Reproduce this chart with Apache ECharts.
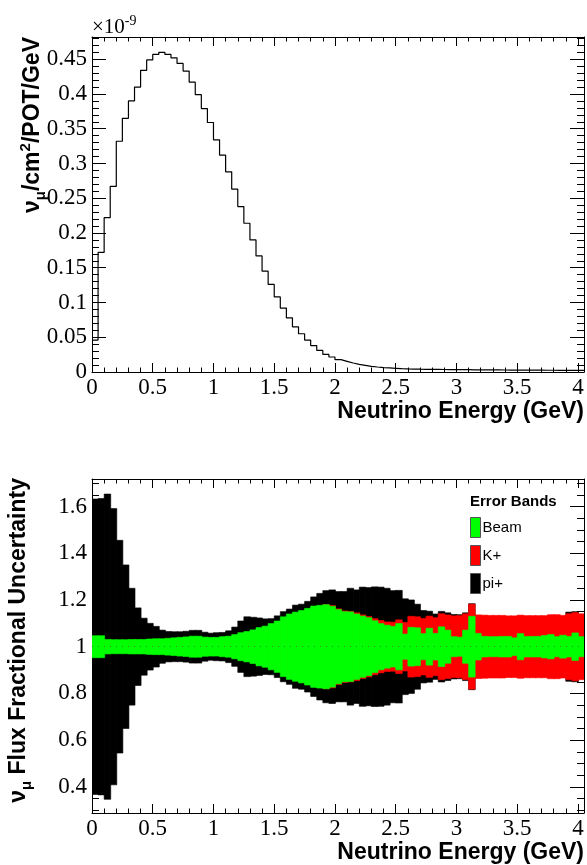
<!DOCTYPE html>
<html>
<head>
<meta charset="utf-8">
<script src="https://cdn.jsdelivr.net/npm/echarts@6/dist/echarts.min.js"></script>
<style>
html, body { margin: 0; padding: 0; background: #fff; }
#chart { width: 587px; height: 865px; }
</style>
</head>
<body>
<div id="chart"></div>
<script>
// bins of 0.05 GeV from 0 to 4.05
var binEdges = [];
for (var i = 0; i <= 81; i++) binEdges.push(+(i * 0.05).toFixed(2))

// nu_mu flux per bin (x 1e-9 /cm2/POT/GeV)
var fluxValues = [
  0.046, 0.172, 0.222, 0.267, 0.332, 0.365, 0.390, 0.410, 0.434, 0.449,
  0.457, 0.460, 0.457, 0.452, 0.444, 0.433, 0.417, 0.399, 0.379, 0.359,
  0.334, 0.312, 0.288, 0.263, 0.238, 0.214, 0.190, 0.167, 0.145, 0.126,
  0.108, 0.092, 0.078, 0.065, 0.055, 0.046, 0.038, 0.031, 0.0255, 0.0216,
  0.0178, 0.0154, 0.0130, 0.0110, 0.0096, 0.0082, 0.0072, 0.0063, 0.0058, 0.0053,
  0.0048, 0.0044, 0.0042, 0.0040, 0.0039, 0.0038, 0.0037, 0.0036, 0.0035, 0.0034,
  0.0034, 0.0033, 0.0032, 0.0031, 0.0031, 0.0030, 0.0030, 0.0029, 0.0028, 0.0028,
  0.0027, 0.0027, 0.0026, 0.0026, 0.0025, 0.0025, 0.0024, 0.0024, 0.0023, 0.0023,
  0.0022
]

// fractional half-widths of the error bands, per bin
var beamErr = [
  0.047, 0.047, 0.031, 0.030, 0.030, 0.030, 0.031, 0.031, 0.031, 0.033,
  0.034, 0.034, 0.036, 0.038, 0.040, 0.042, 0.045, 0.045, 0.041, 0.040,
  0.040, 0.043, 0.045, 0.052, 0.060, 0.065, 0.072, 0.082, 0.088, 0.099,
  0.110, 0.128, 0.140, 0.148, 0.155, 0.164, 0.174, 0.177, 0.180, 0.173,
  0.159, 0.150, 0.149, 0.140, 0.131, 0.124, 0.111, 0.099, 0.092, 0.087,
  0.099, 0.054, 0.083, 0.081, 0.056, 0.079, 0.057, 0.085, 0.071, 0.043,
  0.041, 0.071, 0.130, 0.057, 0.044, 0.043, 0.043, 0.044, 0.044, 0.038,
  0.056, 0.044, 0.044, 0.044, 0.048, 0.052, 0.043, 0.049, 0.044, 0.059,
  0.043
]
var kaonErr = [
  0.020, 0.020, 0.018, 0.017, 0.016, 0.016, 0.016, 0.017, 0.018, 0.019,
  0.020, 0.021, 0.022, 0.024, 0.026, 0.028, 0.030, 0.032, 0.033, 0.034,
  0.035, 0.037, 0.040, 0.045, 0.050, 0.055, 0.062, 0.070, 0.077, 0.086,
  0.096, 0.110, 0.122, 0.132, 0.142, 0.152, 0.162, 0.170, 0.180, 0.176,
  0.162, 0.153, 0.151, 0.145, 0.136, 0.129, 0.120, 0.112, 0.106, 0.105,
  0.115, 0.104, 0.130, 0.128, 0.121, 0.131, 0.124, 0.141, 0.136, 0.132,
  0.133, 0.141, 0.182, 0.136, 0.135, 0.134, 0.134, 0.134, 0.132, 0.132,
  0.135, 0.133, 0.133, 0.133, 0.133, 0.137, 0.137, 0.134, 0.141, 0.146,
  0.141
]
var pionErr = [
  0.632, 0.634, 0.653, 0.591, 0.455, 0.350, 0.250, 0.166, 0.122, 0.100,
  0.087, 0.071, 0.065, 0.064, 0.064, 0.066, 0.070, 0.070, 0.062, 0.058,
  0.060, 0.061, 0.068, 0.084, 0.110, 0.128, 0.126, 0.123, 0.119, 0.120,
  0.132, 0.150, 0.161, 0.178, 0.182, 0.194, 0.213, 0.228, 0.240, 0.243,
  0.236, 0.236, 0.250, 0.243, 0.255, 0.253, 0.256, 0.255, 0.250, 0.240,
  0.241, 0.205, 0.200, 0.182, 0.155, 0.152, 0.140, 0.151, 0.145, 0.138,
  0.137, 0.145, 0.184, 0.128, 0.127, 0.126, 0.126, 0.126, 0.125, 0.125,
  0.127, 0.126, 0.126, 0.126, 0.126, 0.130, 0.130, 0.128, 0.148, 0.150,
  0.135
]
var centralValue = 1

var serif = 'Liberation Serif'
var sans = 'Liberation Sans'

// histogram outline as step points
var fluxLine = fluxValues.map(function (v, i) { return [binEdges[i], v] })
fluxLine.push([binEdges[fluxValues.length], fluxValues[fluxValues.length - 1]])

function band(err) {
  return err.map(function (e, i) {
    return [binEdges[i], binEdges[i + 1], centralValue - e, centralValue + e]
  })
}

function renderBand(params, api) {
  var a = api.coord([api.value(0), api.value(3)])
  var b = api.coord([api.value(1), api.value(2)])
  var c = api.visual('color')
  return {
    type: 'rect',
    shape: { x: a[0], y: a[1], width: b[0] - a[0] + 0.5, height: b[1] - a[1] },
    style: { fill: c, stroke: c, lineWidth: 0.6 }
  }
}

function xAxis(grid, pos) {
  return {
    type: 'value', gridIndex: grid, position: pos,
    min: 0, max: 4.05, interval: 0.5,
    axisLine: { show: true, onZero: false, lineStyle: { color: '#000', width: 1 } },
    axisTick: { show: true, inside: true, length: 9, lineStyle: { color: '#000' } },
    minorTick: { show: true, splitNumber: 5, length: 4.5, lineStyle: { color: '#000' } },
    splitLine: { show: false },
    axisLabel: {
      show: pos === 'bottom', margin: 4, showMaxLabel: false,
      fontFamily: serif, fontSize: 23, color: '#000'
    }
  }
}

function yAxis(grid, pos, range, minor) {
  var ax = {
    type: 'value', gridIndex: grid, position: pos,
    min: range[0], max: range[1],
    axisLine: { show: true, onZero: false, lineStyle: { color: '#000', width: 1 } },
    axisTick: { show: true, inside: true, length: 14, lineStyle: { color: '#000' } },
    minorTick: { show: true, splitNumber: minor, length: 7, lineStyle: { color: '#000' } },
    splitLine: { show: false },
    axisLabel: {
      show: pos === 'left', margin: 5, showMinLabel: grid === 0, showMaxLabel: false,
      fontFamily: serif, fontSize: 23, color: '#000'
    }
  }
  if (grid === 0) ax.interval = 0.05
  else ax.splitNumber = 7
  return ax
}

var titleRich = {
  n: { fontFamily: sans, fontWeight: 'bold', fontSize: 23, lineHeight: 30, fill: '#000' },
  s: { fontFamily: sans, fontWeight: 'bold', fontSize: 15, lineHeight: 30, verticalAlign: 'bottom', fill: '#000' },
  p: { fontFamily: sans, fontWeight: 'bold', fontSize: 15, lineHeight: 30, verticalAlign: 'top', fill: '#000' }
}

var chart = echarts.init(document.getElementById('chart'))
chart.setOption({
  animation: false,
  backgroundColor: '#fff',
  grid: [
    { left: 92, top: 37, width: 492, height: 335 },
    { left: 92, top: 479, width: 492, height: 334 }
  ],
  xAxis: [xAxis(0, 'bottom'), xAxis(0, 'top'), xAxis(1, 'bottom'), xAxis(1, 'top')],
  yAxis: [
    yAxis(0, 'left', [0, 0.482], 5), yAxis(0, 'right', [0, 0.482], 5),
    yAxis(1, 'left', [0.2885, 1.7175], 4), yAxis(1, 'right', [0.2885, 1.7175], 4)
  ],
  legend: {
    data: ['Beam', 'K+', 'pi+'],
    orient: 'vertical', left: 470, top: 517, padding: 0,
    itemWidth: 10, itemHeight: 20, itemGap: 7, icon: 'rect',
    selectedMode: false,
    itemStyle: { borderColor: '#555', borderWidth: 1 },
    textStyle: { fontFamily: sans, fontSize: 15, color: '#000', padding: [0, 0, 0, -3] }
  },
  graphic: [
    {
      type: 'text', x: 92, y: 27,
      style: {
        text: '{a|×10}{b|-9}', align: 'left', verticalAlign: 'middle',
        rich: {
          a: { fontFamily: serif, fontSize: 21, lineHeight: 26, fill: '#000' },
          b: { fontFamily: serif, fontSize: 14, lineHeight: 26, verticalAlign: 'top', fill: '#000' }
        }
      }
    },
    {
      type: 'text', x: 33, y: 37, rotation: Math.PI / 2,
      style: {
        text: '{n|ν}{s|μ}{n|/cm}{p|2}{n|/POT/GeV}', align: 'right', verticalAlign: 'middle',
        rich: titleRich
      }
    },
    {
      type: 'text', x: 19, y: 478, rotation: Math.PI / 2,
      style: {
        text: '{n|ν}{s|μ}{n| Flux Fractional Uncertainty}', align: 'right', verticalAlign: 'middle',
        rich: titleRich
      }
    },
    {
      type: 'text', x: 584, y: 412,
      style: {
        text: 'Neutrino Energy (GeV)', align: 'right', verticalAlign: 'middle',
        fontFamily: sans, fontWeight: 'bold', fontSize: 23, fill: '#000'
      }
    },
    {
      type: 'text', x: 584, y: 853,
      style: {
        text: 'Neutrino Energy (GeV)', align: 'right', verticalAlign: 'middle',
        fontFamily: sans, fontWeight: 'bold', fontSize: 23, fill: '#000'
      }
    },
    {
      type: 'text', x: 470, y: 502,
      style: {
        text: 'Error Bands', align: 'left', verticalAlign: 'middle',
        fontFamily: sans, fontWeight: 'bold', fontSize: 15, fill: '#000'
      }
    }
  ],
  series: [
    {
      type: 'line', xAxisIndex: 0, yAxisIndex: 0,
      data: fluxLine, step: 'end', showSymbol: false, symbol: 'none',
      lineStyle: { color: '#000', width: 1.2 }
    },
    {
      name: 'pi+', type: 'custom', xAxisIndex: 2, yAxisIndex: 2,
      renderItem: renderBand, data: band(pionErr), clip: true,
      encode: { x: [0, 1], y: [2, 3] },
      itemStyle: { color: '#000000' }
    },
    {
      name: 'K+', type: 'custom', xAxisIndex: 2, yAxisIndex: 2,
      renderItem: renderBand, data: band(kaonErr), clip: true,
      encode: { x: [0, 1], y: [2, 3] },
      itemStyle: { color: '#ff0000' }
    },
    {
      name: 'Beam', type: 'custom', xAxisIndex: 2, yAxisIndex: 2,
      renderItem: renderBand, data: band(beamErr), clip: true,
      encode: { x: [0, 1], y: [2, 3] },
      itemStyle: { color: '#00ff00' },
      markLine: {
        silent: true, symbol: 'none', label: { show: false },
        lineStyle: { color: '#2e8b2e', width: 1, type: [1, 5] },
        data: [{ yAxis: centralValue }]
      }
    }
  ]
})
</script>
</body>
</html>
